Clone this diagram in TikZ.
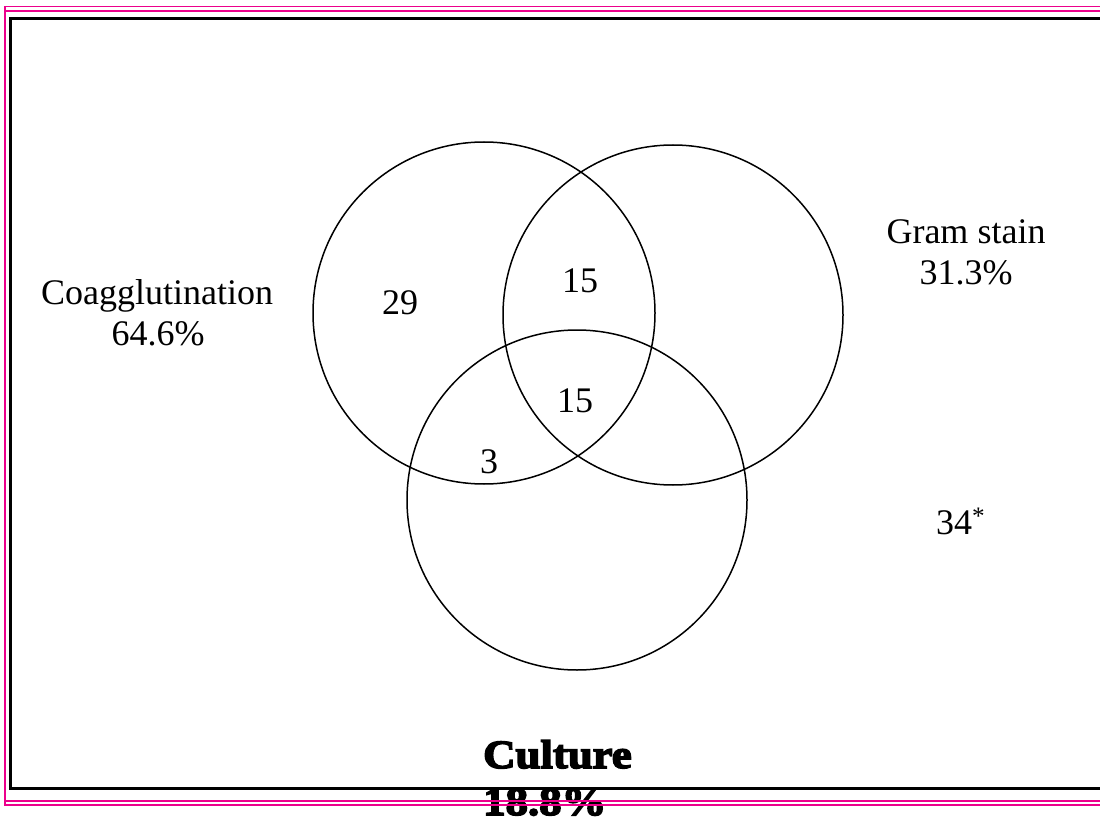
\documentclass[tikz,border=0pt]{standalone}
\usepackage{fontspec}
\setmainfont{Liberation Serif}
\newfontfamily\heavy[BoldFeatures={FakeBold=4,FakeStretch=1.12}]{Liberation Serif}
\tikzset{
  lbl/.style={anchor=base, inner sep=0pt, font=\fontsize{36}{40}\selectfont},
  heavylbl/.style={anchor=base west, inner sep=0pt, font=\heavy\bfseries\fontsize{40}{44}\selectfont},
  set/.style={draw=black, line width=1.5pt},
  frame/.style={draw=black, line width=3pt},
  pinkline/.style={draw=magenta, line width=1.5pt}
}
\begin{document}
\begin{tikzpicture}[x=1pt,y=-1pt]
\useasboundingbox (0,0) rectangle (1100,818);
% circles
\draw[set] (484,313) circle[radius=171] coordinate (coag);
\draw[set] (673,315) circle[radius=170] coordinate (gram);
\draw[set] (577,500) circle[radius=170] coordinate (cult);
% labels
\node[lbl] (coagname) at (157,305) {Coagglutination};
\node[lbl] (coagpct) at (158,345) {64.6\%};
\node[lbl] (gramname) at (966,244) {Gram stain};
\node[lbl] (grampct) at (966,284) {31.3\%};
\node[lbl] (n29) at (400,315) {29};
\node[lbl] (n15a) at (580,292) {15};
\node[lbl] (n15b) at (575,412) {15};
\node[lbl] (n3) at (489,473) {3};
\node[lbl, anchor=base west] (n34) at (936,534) {34\textsuperscript{*}};
\node[heavylbl] (cultname) at (483,768) {Culture};
\node[heavylbl] (cultpct) at (483,815) {18.8\%};
% frame
\draw[frame] (1100,18.5) -- (10.5,18.5) -- (10.5,788) -- (1100,788);
% magenta border
\draw[pinkline] (1100,6.5) -- (5,6.5) -- (5,805) -- (1100,805);
\draw[pinkline] (5,11) -- (1100,11);
\draw[pinkline] (5,801) -- (1100,801);
\end{tikzpicture}
\end{document}
